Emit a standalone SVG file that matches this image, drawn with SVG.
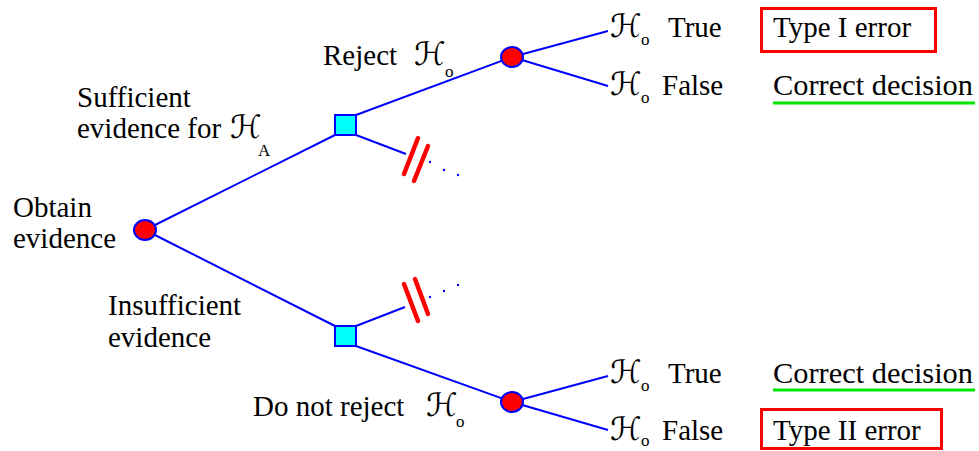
<svg xmlns="http://www.w3.org/2000/svg" width="979" height="451" viewBox="0 0 979 451">
<style>
.t{font-size:29px;fill:#000}
.h{font-size:32px;font-style:italic;fill:#000}
.s{font-size:17px;fill:#000}
.e{stroke:#0000ff;stroke-width:2;fill:none}
.slash{stroke:#ff0000;stroke-width:4.5;stroke-linecap:round}
.dot{fill:#0000ff}
.chance{fill:#ff0000;stroke:#0000ff;stroke-width:2}
.dec{fill:#00ffff;stroke:#0000ff;stroke-width:2}
.box{fill:none;stroke:#ff0000;stroke-width:3}
.ul{stroke:#00e600;stroke-width:3}
</style>
<rect width="979" height="451" fill="#ffffff"/>
<g id="connectors">
<line class="e" x1="145" y1="230" x2="335" y2="135"/>
<line class="e" x1="145" y1="230" x2="335" y2="326"/>
<line class="e" x1="356" y1="115" x2="512" y2="57"/>
<line class="e" x1="356" y1="135" x2="406" y2="154"/>
<line class="e" x1="356" y1="326" x2="405" y2="307"/>
<line class="e" x1="356" y1="346" x2="512" y2="402"/>
<line class="e" x1="512" y1="57" x2="608" y2="31"/>
<line class="e" x1="512" y1="57" x2="608" y2="86"/>
<line class="e" x1="512" y1="402" x2="608" y2="376"/>
<line class="e" x1="512" y1="402" x2="608" y2="430"/>
<line class="slash" x1="418" y1="138" x2="404" y2="174"/>
<line class="slash" x1="428" y1="146" x2="414" y2="181"/>
<line class="slash" x1="404" y1="284" x2="418" y2="321"/>
<line class="slash" x1="415" y1="279" x2="428" y2="314"/>
<circle class="dot" cx="430" cy="162" r="1.2"/>
<circle class="dot" cx="444" cy="170" r="1.2"/>
<circle class="dot" cx="458" cy="175" r="1.2"/>
<circle class="dot" cx="430" cy="297" r="1.2"/>
<circle class="dot" cx="444" cy="291" r="1.2"/>
<circle class="dot" cx="458" cy="285" r="1.2"/>
</g>
<g font-family="Liberation Serif, DejaVu Serif, serif">
<g id="root">
<ellipse class="chance" cx="145" cy="230" rx="11" ry="10"/>
<text class="t" x="13" y="217">Obtain</text>
<text class="t" x="13" y="248">evidence</text>
</g>
<g id="sufficient-label">
<text class="t" x="77" y="107">Sufficient</text>
<text class="t" x="77" y="138">evidence for</text>
<text class="h" x="230" y="138" font-family="DejaVu Sans, sans-serif">ℋ</text>
<text class="s" x="258" y="156">A</text>
</g>
<g id="insufficient-label">
<text class="t" x="108" y="315">Insufficient</text>
<text class="t" x="108" y="347">evidence</text>
</g>
<g id="decision-upper">
<rect class="dec" x="335" y="115" width="21" height="20"/>
</g>
<g id="decision-lower">
<rect class="dec" x="335" y="326" width="21" height="20"/>
</g>
<g id="reject">
<ellipse class="chance" cx="512" cy="57" rx="11" ry="10"/>
<text class="t" x="323" y="65">Reject</text>
<text class="h" x="414" y="65" font-family="DejaVu Sans, sans-serif">ℋ</text>
<text class="s" x="445" y="77">o</text>
</g>
<g id="not-reject">
<ellipse class="chance" cx="512" cy="402" rx="11" ry="10"/>
<text class="t" x="253" y="416">Do not reject</text>
<text class="h" x="426" y="416" font-family="DejaVu Sans, sans-serif">ℋ</text>
<text class="s" x="456" y="427">o</text>
</g>
<g id="outcome-1">
<text class="h" x="610" y="37" font-family="DejaVu Sans, sans-serif">ℋ</text>
<text class="s" x="641" y="45">o</text>
<text class="t" x="668" y="37">True</text>
<rect class="box" x="761.5" y="8.5" width="174" height="43"/>
<text class="t" x="773" y="37">Type I error</text>
</g>
<g id="outcome-2">
<text class="h" x="610" y="95" font-family="DejaVu Sans, sans-serif">ℋ</text>
<text class="s" x="641" y="103">o</text>
<text class="t" x="662" y="95">False</text>
<text class="t" x="773" y="95" textLength="200" lengthAdjust="spacingAndGlyphs">Correct decision</text>
<line class="ul" x1="773" y1="103" x2="975" y2="103"/>
</g>
<g id="outcome-3">
<text class="h" x="610" y="383" font-family="DejaVu Sans, sans-serif">ℋ</text>
<text class="s" x="641" y="391">o</text>
<text class="t" x="668" y="383">True</text>
<text class="t" x="773" y="383" textLength="200" lengthAdjust="spacingAndGlyphs">Correct decision</text>
<line class="ul" x1="773" y1="390" x2="975" y2="390"/>
</g>
<g id="outcome-4">
<text class="h" x="610" y="440" font-family="DejaVu Sans, sans-serif">ℋ</text>
<text class="s" x="641" y="446">o</text>
<text class="t" x="662" y="440">False</text>
<rect class="box" x="761.5" y="409.5" width="180" height="39"/>
<text class="t" x="773" y="440">Type II error</text>
</g>
</g>
</svg>
